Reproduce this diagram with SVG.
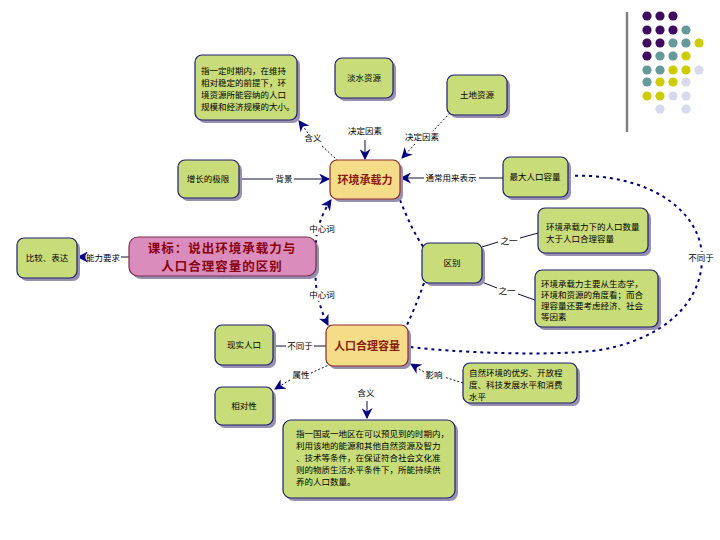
<svg xmlns="http://www.w3.org/2000/svg" width="720" height="540" viewBox="0 0 720 540">
<style>
text{font-family:"Noto Sans CJK SC","Noto Sans",sans-serif;fill:#000;}
.t{font-size:8.5px;}
.c{text-anchor:middle;}
.sh{fill:#9890B0;}
.g{fill:#C8DC7A;stroke:#1E1E6E;stroke-width:1.2;}
.y{fill:#F4DC88;stroke:#8E2A2A;stroke-width:1.2;}
.p{fill:#DA8CBC;stroke:#7A2E4E;stroke-width:1.2;}
.ct{font-size:11px;font-weight:bold;fill:#8B1A10;}
.pt{font-size:12.5px;font-weight:bold;fill:#8B0010;letter-spacing:1px;}
.ln{fill:none;stroke:#10103A;stroke-width:1;}
.dt{fill:none;stroke:#10103A;stroke-width:1;stroke-dasharray:2 2;}
.bd{fill:none;stroke:#00007A;stroke-width:2;stroke-dasharray:3 4;}
.wb{fill:#fff;}
</style>
<defs>
<marker id="arr" viewBox="0 0 10 10" refX="9" refY="5" markerWidth="11" markerHeight="11" markerUnits="userSpaceOnUse" orient="auto">
<path d="M0,0 L10,5 L0,10 L3,5z" fill="#000080"/>
</marker>
</defs>

<g id="decor">
<line x1="627" y1="12" x2="627" y2="132" stroke="#808080" stroke-width="2.5"/>
<g fill="#3E0B5E">
<circle cx="647" cy="16" r="4.6"/><circle cx="660" cy="16" r="4.6"/><circle cx="673" cy="16" r="4.6"/>
<circle cx="647" cy="30" r="4.6"/><circle cx="660" cy="30" r="4.6"/><circle cx="673" cy="30" r="4.6"/>
<circle cx="647" cy="43" r="4.6"/><circle cx="660" cy="43" r="4.6"/>
<circle cx="647" cy="56" r="4.6"/>
</g>
<g fill="#669999">
<circle cx="686" cy="30" r="4.6"/>
<circle cx="673" cy="43" r="4.6"/><circle cx="686" cy="43" r="4.6"/>
<circle cx="660" cy="56" r="4.6"/><circle cx="673" cy="56" r="4.6"/>
<circle cx="647" cy="70" r="4.6"/><circle cx="660" cy="70" r="4.6"/>
<circle cx="647" cy="82" r="4.6"/>
</g>
<g fill="#CCCC00">
<circle cx="699" cy="43" r="4.6"/>
<circle cx="686" cy="56" r="4.6"/>
<circle cx="673" cy="70" r="4.6"/><circle cx="686" cy="70" r="4.6"/>
<circle cx="660" cy="82" r="4.6"/><circle cx="673" cy="82" r="4.6"/>
<circle cx="647" cy="96" r="4.6"/><circle cx="660" cy="96" r="4.6"/>
</g>
<g fill="#D9D9EE">
<circle cx="699" cy="70" r="4.6"/>
<circle cx="686" cy="82" r="4.6"/>
<circle cx="673" cy="96" r="4.6"/><circle cx="686" cy="96" r="4.6"/>
<circle cx="660" cy="109" r="4.6"/><circle cx="686" cy="109" r="4.6"/>
</g>
</g>

<g id="connectors">
<!-- 背景 -->
<line class="ln" x1="239" y1="179" x2="273" y2="179"/>
<text class="t c" x="284" y="182">背景</text>
<line class="ln" x1="294" y1="179" x2="329" y2="179" marker-end="url(#arr)"/>
<!-- 通常用来表示 -->
<line class="ln" x1="503" y1="178" x2="479" y2="178"/>
<text class="t c" x="451" y="181">通常用来表示</text>
<line class="ln" x1="424" y1="178" x2="401" y2="178" marker-end="url(#arr)"/>
<!-- 决定因素 淡水 -->
<text class="t c" x="365" y="134">决定因素</text>
<line class="ln" x1="365" y1="140" x2="365" y2="159" marker-end="url(#arr)"/>
<!-- 决定因素 土地 -->
<line class="dt" x1="450" y1="113" x2="433" y2="131"/>
<text class="t c" x="422" y="140">决定因素</text>
<line class="dt" x1="415" y1="144" x2="402" y2="158" marker-end="url(#arr)"/>
<!-- 含义 top -->
<line class="dt" x1="338" y1="161" x2="321" y2="145"/>
<text class="t c" x="313" y="141">含义</text>
<line class="dt" x1="308" y1="133" x2="299" y2="121" marker-end="url(#arr)"/>
<!-- 能力要求 -->
<line class="ln" x1="129" y1="257" x2="121" y2="257"/>
<text class="t c" x="103" y="261">能力要求</text>
<line class="ln" x1="86" y1="257" x2="78" y2="257" marker-end="url(#arr)"/>
<!-- 中心词 -->
<path class="bd" d="M318,257 C312,240 320,216 331,200" marker-end="url(#arr)"/>
<path class="bd" d="M318,257 C312,280 318,305 328,325" marker-end="url(#arr)"/>
<rect class="wb" x="309" y="224" width="27" height="11"/>
<text class="t c" x="322" y="232">中心词</text>
<rect class="wb" x="309" y="290" width="27" height="11"/>
<text class="t c" x="322" y="298">中心词</text>
<!-- 区别 links -->
<path class="bd" d="M400,200 C408,220 415,235 424,248"/>
<path class="bd" d="M424,283 C418,300 413,312 407,325"/>
<!-- 之一 -->
<line class="ln" x1="482" y1="247" x2="498" y2="242"/>
<text class="t c" x="509" y="244">之一</text>
<line class="ln" x1="520" y1="238" x2="538" y2="233"/>
<line class="ln" x1="482" y1="282" x2="497" y2="288"/>
<text class="t c" x="507" y="294">之一</text>
<line class="ln" x1="518" y1="294" x2="535" y2="300"/>
<!-- 不同于 loop -->
<path class="bd" d="M568,176 C650,172 702,212 702,258 C702,305 660,340 600,350 C550,357 450,352 410,347"/>
<rect class="wb" x="688" y="252" width="28" height="12"/>
<text class="t c" x="701" y="261">不同于</text>
<!-- 不同于 现实人口 -->
<line class="ln" x1="326" y1="346" x2="314" y2="346"/>
<text class="t c" x="300" y="349">不同于</text>
<line class="ln" x1="286" y1="346" x2="273" y2="346"/>
<!-- 属性 -->
<line class="dt" x1="331" y1="364" x2="311" y2="373"/>
<text class="t c" x="301" y="378">属性</text>
<line class="dt" x1="290" y1="380" x2="275" y2="389" marker-end="url(#arr)"/>
<!-- 含义 bottom -->
<text class="t c" x="366" y="396">含义</text>
<line class="ln" x1="367" y1="401" x2="367" y2="418" marker-end="url(#arr)"/>
<!-- 影响 -->
<line class="dt" x1="463" y1="383" x2="444" y2="377"/>
<text class="t c" x="434" y="378">影响</text>
<line class="dt" x1="424" y1="372" x2="411" y2="364" marker-end="url(#arr)"/>
</g>

<g id="def-top">
<rect class="sh" x="198" y="58" width="102" height="65" rx="7"/>
<rect class="g" x="195" y="55" width="102" height="65" rx="7"/>
<text class="t" x="201" y="73.5">指一定时期内，在维持</text>
<text class="t" x="201" y="85.5">相对稳定的前提下，环</text>
<text class="t" x="201" y="97.5">境资源所能容纳的人口</text>
<text class="t" x="201" y="109.5">规模和经济规模的大小。</text>
</g>
<g id="freshwater">
<rect class="sh" x="338" y="61" width="58" height="40" rx="7"/>
<rect class="g" x="335" y="58" width="58" height="40" rx="7"/>
<text class="t c" x="364" y="81">淡水资源</text>
</g>
<g id="land">
<rect class="sh" x="450" y="78" width="60" height="40" rx="7"/>
<rect class="g" x="447" y="75" width="60" height="40" rx="7"/>
<text class="t c" x="477" y="98">土地资源</text>
</g>
<g id="carrying">
<rect class="sh" x="333" y="163" width="70" height="39" rx="7"/>
<rect class="y" x="330" y="160" width="70" height="39" rx="7"/>
<text class="ct c" x="365" y="184">环境承载力</text>
</g>
<g id="limits">
<rect class="sh" x="181" y="163" width="61" height="38" rx="7"/>
<rect class="g" x="178" y="160" width="61" height="38" rx="7"/>
<text class="t c" x="208" y="182">增长的极限</text>
</g>
<g id="maxpop">
<rect class="sh" x="506" y="160" width="65" height="40" rx="7"/>
<rect class="g" x="503" y="157" width="65" height="40" rx="7"/>
<text class="t c" x="535" y="180">最大人口容量</text>
</g>
<g id="standard">
<rect class="sh" x="132" y="240" width="187" height="39" rx="9"/>
<rect class="p" x="129" y="237" width="187" height="39" rx="9"/>
<text class="pt c" x="222" y="253">课标：说出环境承载力与</text>
<text class="pt c" x="222" y="271.3">人口合理容量的区别</text>
</g>
<g id="ability">
<rect class="sh" x="20" y="241" width="60" height="40" rx="7"/>
<rect class="g" x="17" y="238" width="60" height="40" rx="7"/>
<text class="t c" x="47" y="261">比较、表达</text>
</g>
<g id="diff">
<rect class="sh" x="425" y="246" width="60" height="40" rx="7"/>
<rect class="g" x="422" y="243" width="60" height="40" rx="7"/>
<text class="t c" x="452" y="266">区别</text>
</g>
<g id="diff1">
<rect class="sh" x="541" y="211" width="110" height="45" rx="7"/>
<rect class="g" x="538" y="208" width="110" height="45" rx="7"/>
<text class="t" x="546" y="229.5">环境承载力下的人口数量</text>
<text class="t" x="546" y="241.5">大于人口合理容量</text>
</g>
<g id="diff2">
<rect class="sh" x="538" y="273" width="123" height="57" rx="7"/>
<rect class="g" x="535" y="270" width="123" height="57" rx="7"/>
<text class="t" x="541" y="287">环境承载力主要从生态学，</text>
<text class="t" x="541" y="298">环境和资源的角度看；而合</text>
<text class="t" x="541" y="309">理容量还要考虑经济、社会</text>
<text class="t" x="541" y="320">等因素</text>
</g>
<g id="reasonable">
<rect class="sh" x="329" y="328" width="82" height="41" rx="7"/>
<rect class="y" x="326" y="325" width="82" height="41" rx="7"/>
<text class="ct c" x="367" y="350">人口合理容量</text>
</g>
<g id="actual">
<rect class="sh" x="218" y="328" width="58" height="40" rx="7"/>
<rect class="g" x="215" y="325" width="58" height="40" rx="7"/>
<text class="t c" x="244" y="348">现实人口</text>
</g>
<g id="relative">
<rect class="sh" x="218" y="390" width="58" height="38" rx="7"/>
<rect class="g" x="215" y="387" width="58" height="38" rx="7"/>
<text class="t c" x="244" y="409">相对性</text>
</g>
<g id="factors">
<rect class="sh" x="466" y="366" width="114" height="40" rx="7"/>
<rect class="g" x="463" y="363" width="114" height="40" rx="7"/>
<text class="t" x="469" y="376">自然环境的优劣、开放程</text>
<text class="t" x="469" y="388">度、科技发展水平和消费</text>
<text class="t" x="469" y="400">水平</text>
</g>
<g id="def-bottom">
<rect class="sh" x="286" y="423" width="172" height="78" rx="8"/>
<rect class="g" x="283" y="420" width="172" height="78" rx="8"/>
<text class="t" x="296" y="437.3">指一国或一地区在可以预见到的时期内，</text>
<text class="t" x="296" y="449.2">利用该地的能源和其他自然资源及智力</text>
<text class="t" x="296" y="461">、技术等条件，在保证符合社会文化准</text>
<text class="t" x="296" y="472.9">则的物质生活水平条件下，所能持续供</text>
<text class="t" x="296" y="484.7">养的人口数量。</text>
</g>
</svg>
